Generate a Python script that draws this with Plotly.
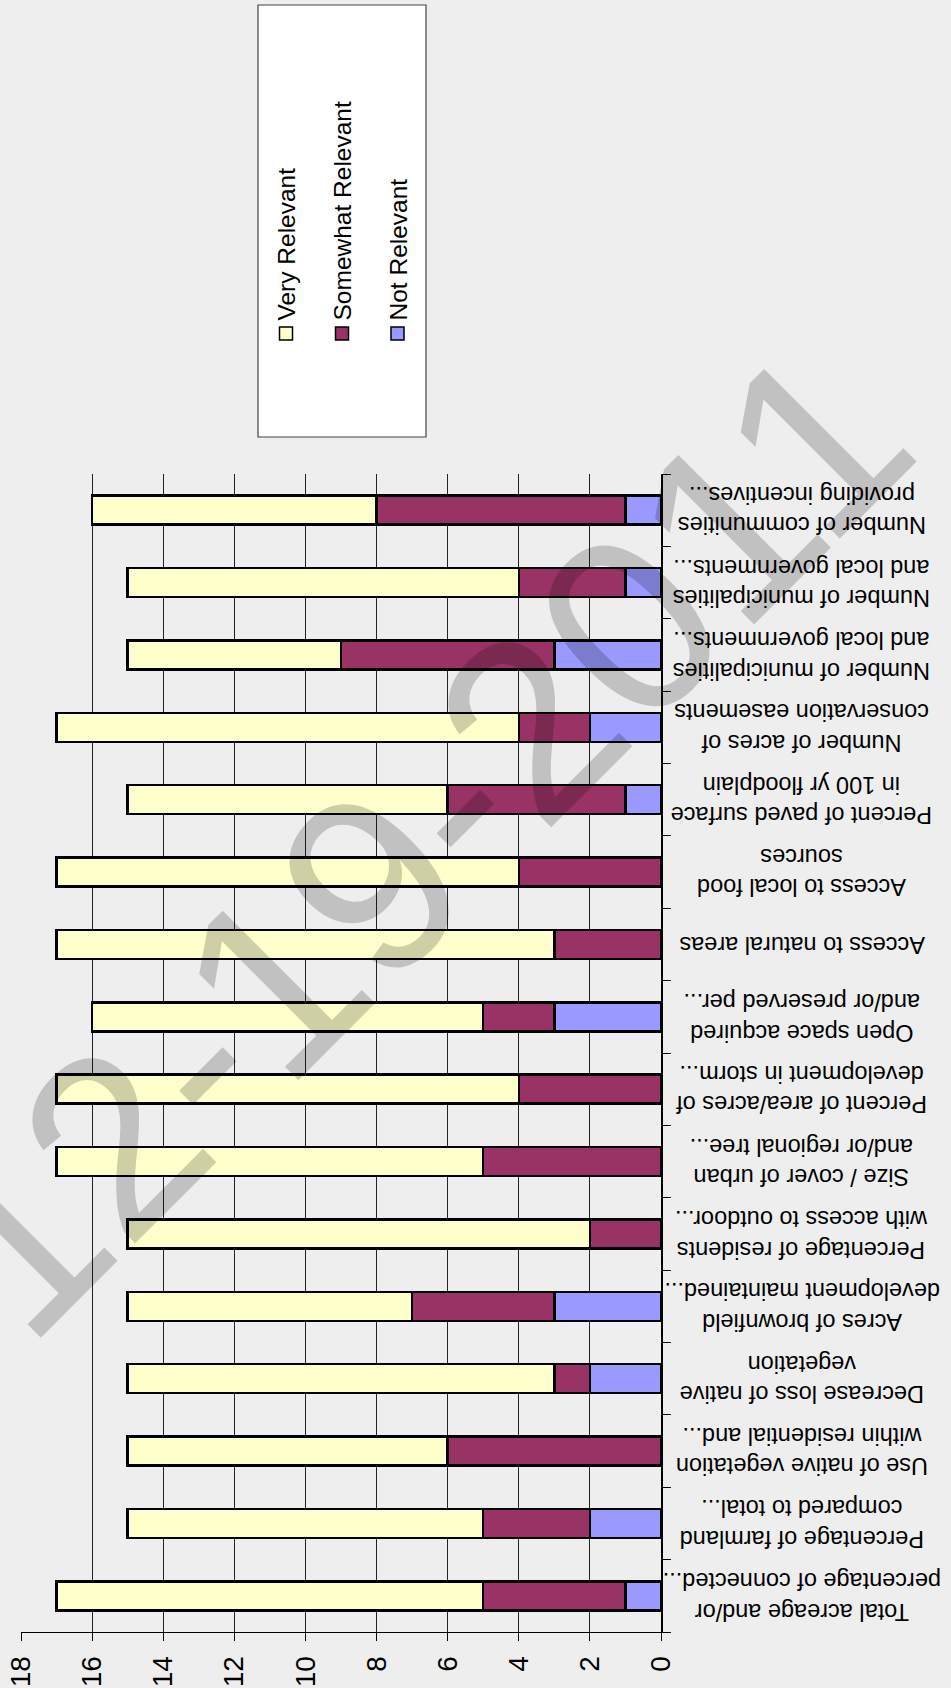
import plotly.graph_objects as go

categories = [
    "Number of communities<br>providing incentives...",
    "Number of municipalities<br>and local governments...",
    "Number of municipalities<br>and local governments...",
    "Number of acres of<br>conservation easements",
    "Percent of paved surface<br>in 100 yr floodplain",
    "Access to local food<br>sources",
    "Access to natural areas",
    "Open space acquired<br>and/or preserved per...",
    "Percent of area/acres of<br>development in storm...",
    "Size / cover of urban<br>and/or regional tree...",
    "Percentage of residents<br>with access to outdoor...",
    "Acres of brownfield<br>development maintained...",
    "Decrease loss of native<br>vegetation",
    "Use of native vegetation<br>within residential and...",
    "Percentage of farmland<br>compared to total...",
    "Total acreage and/or<br>percentage of connected...",
]
not_relevant = [1, 1, 3, 2, 1, 0, 0, 3, 0, 0, 0, 3, 2, 0, 2, 1]
somewhat_relevant = [7, 3, 6, 2, 5, 4, 3, 2, 4, 5, 2, 4, 1, 6, 3, 4]
very_relevant = [8, 11, 6, 13, 9, 13, 14, 11, 13, 12, 13, 8, 12, 9, 10, 12]
series_names = ["Very Relevant", "Somewhat Relevant", "Not Relevant"]
watermark = "12-19-2011"

C_VERY = "#FFFFCC"
C_SOME = "#993366"
C_NOT = "#9999FF"
BG = "#EEEEEE"
FONT = "Liberation Sans, Arial, sans-serif"

W, H = 951, 1688
ML, MR, MT, MB = 21, 290, 474, 56
PW = W - ML - MR
PH = H - MT - MB


def px(x):
    return (x - ML) / PW


def py(y):
    return (H - MB - y) / PH


rows = list(range(len(categories)))

fig = go.Figure()
for name, vals, col in [
    (series_names[2], not_relevant, C_NOT),
    (series_names[1], somewhat_relevant, C_SOME),
    (series_names[0], very_relevant, C_VERY),
]:
    fig.add_trace(go.Bar(
        x=vals, y=rows, orientation="h", name=name,
        marker=dict(color=col, line=dict(color="black", width=2.5)),
        showlegend=False, hoverinfo="x+name",
    ))

annotations = []
for i, lab in enumerate(categories):
    annotations.append(dict(
        x=px(802), xref="paper", y=i, yref="y", text=lab, showarrow=False,
        xanchor="center", yanchor="middle", textangle=180,
        align="center", font=dict(family=FONT, size=23.5, color="black"),
    ))

shapes = [dict(type="rect", xref="paper", yref="paper",
               x0=px(258), x1=px(426), y0=py(437), y1=py(5),
               fillcolor="white", line=dict(color="#444444", width=1.2), layer="below")]

for name, col, cx in [(series_names[0], C_VERY, 286), (series_names[1], C_SOME, 342), (series_names[2], C_NOT, 397.5)]:
    shapes.append(dict(type="rect", xref="paper", yref="paper",
                       x0=px(cx - 6.5), x1=px(cx + 6.5), y0=py(340), y1=py(327),
                       fillcolor=col, line=dict(color="black", width=1.5)))
    annotations.append(dict(
        x=px(cx), xref="paper", y=py(323), yref="paper", text=name, showarrow=False,
        xanchor="center", yanchor="bottom", textangle=-90,
        font=dict(family=FONT, size=24.5, color="black"),
    ))

annotations.append(dict(
    x=px(414), xref="paper", y=py(840), yref="paper", text=watermark, showarrow=False,
    xanchor="center", yanchor="middle", textangle=-45,
    font=dict(family=FONT, size=252, color="rgba(0,0,0,0.19)"),
))

fig.update_layout(
    width=W, height=H,
    margin=dict(l=ML, r=MR, t=MT, b=MB, pad=0, autoexpand=False),
    paper_bgcolor=BG, plot_bgcolor=BG,
    barmode="stack", bargap=0.6,
    xaxis=dict(range=[18, 0], dtick=2, tick0=0, showgrid=True, gridcolor="#222222", gridwidth=1,
               zeroline=False, showline=True, linecolor="black", linewidth=1, automargin=False,
               ticks="outside", ticklen=8, tickcolor="black", tickangle=-90,
               ticklabelstandoff=4,
               tickfont=dict(family=FONT, size=28, color="black")),
    yaxis=dict(range=[15.5, -0.5], side="right", showgrid=False, zeroline=False, automargin=False,
               showline=True, linecolor="black", linewidth=1.5,
               tickmode="array", tickvals=[i - 0.5 for i in range(len(categories) + 1)],
               ticks="outside", ticklen=8, tickcolor="black", showticklabels=False),
    annotations=annotations, shapes=shapes,
)

fig.write_html(
    "out.html",
    config={"displayModeBar": False},
    post_script="document.body.style.margin='0';document.body.style.background='%s';"
                "document.body.style.overflow='hidden';" % BG,
)
